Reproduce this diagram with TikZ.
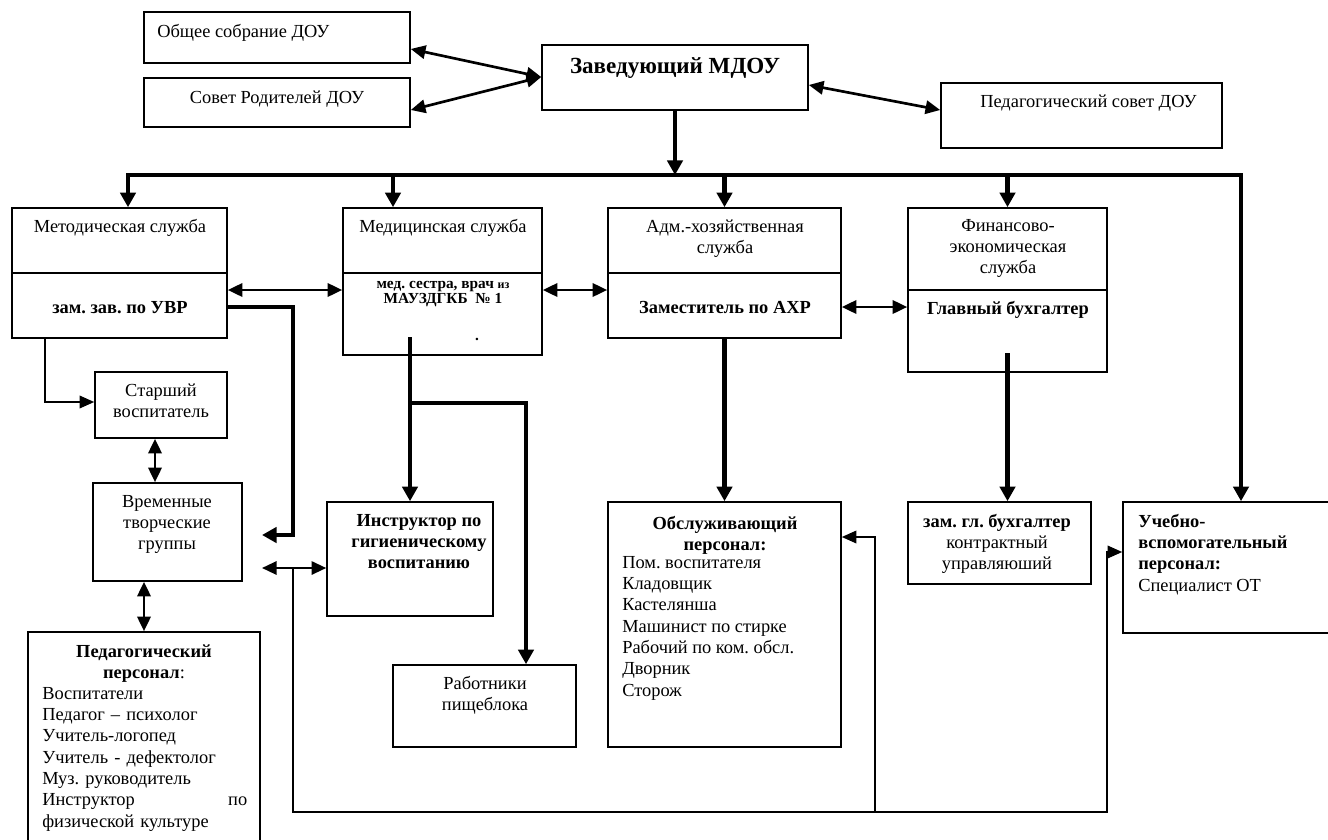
\documentclass[tikz,border=0pt]{standalone}
\usepackage{fontspec}
\setmainfont{Liberation Serif}
\usetikzlibrary{arrows.meta,fit}
\frenchspacing
\tikzset{
  box/.style={draw, line width=1.2pt, inner sep=0pt},
  divline/.style={line width=1.2pt},
  txt/.style={inner sep=0pt, font=\fontsize{13.8pt}{16pt}\selectfont\frenchspacing, align=center, anchor=north, yshift=11.2pt},
  txtl/.style={txt, align=left, anchor=north west},
  btxt/.style={txt, font=\fontsize{13.8pt}{16pt}\selectfont\bfseries\frenchspacing},
  smalltxt/.style={inner sep=0pt, font=\fontsize{11.5pt}{11.25pt}\selectfont\bfseries, align=center, anchor=north, yshift=7.875pt},
  zavtxt/.style={inner sep=0pt, font=\fontsize{17.3pt}{20pt}\selectfont\bfseries, anchor=base},
  heavy/.style={line width=3.7pt, line join=miter},
  heavyarr/.style={heavy, -{Triangle[length=11pt,width=11.5pt]}},
  dblarr/.style={line width=2pt, {Triangle[length=11pt,width=10pt]}-{Triangle[length=11pt,width=10pt]}},
  lite/.style={line width=1.2pt, line join=miter},
  litearr/.style={lite, -{Triangle[length=11pt,width=9.5pt]}},
}
\begin{document}
\begin{tikzpicture}[x=0.75pt,y=-0.75pt]
\useasboundingbox (0,0) rectangle (1328,839);
\clip (0,0) rectangle (1328,839);
\fill[white] (0,0) rectangle (1328,839);

% top level
\node[box, fit={(144,12)(410,63)}] (obsch) {};
\node[txtl] (obsch-t) at (157,37) {\strut Общее собрание ДОУ};
\node[box, fit={(144,78)(410,127)}] (sovet) {};
\node[txt] (sovet-t) at (277,103) {\strut Совет Родителей ДОУ};
\node[box, fit={(542,45)(808,110)}] (zav) {};
\node[zavtxt] (zav-t) at (675,73) {Заведующий МДОУ};
\node[box, fit={(941,83)(1222,148)}] (pedsov) {};
\node[txtl] (pedsov-t) at (980,107) {\strut Педагогический совет ДОУ};

% services
\node[box, fit={(12,208)(227,338)}] (metod) {};
\draw[divline] (metod.west |- 0,273) -- (metod.east |- 0,273);
\node[txt] (metod-t) at (120,232) {\strut Методическая служба};
\node[btxt] (metod-b) at (120,313) {\strut зам. зав. по УВР};

\node[box, fit={(343,208)(542,355)}] (med) {};
\draw[divline] (med.west |- 0,273) -- (med.east |- 0,273);
\node[txt] (med-t) at (443,232) {\strut Медицинская служба};
\node[smalltxt] (med-b) at (443,288) {\strut мед. сестра, врач {\fontsize{9pt}{11.25pt}\selectfont из}\\МАУЗДГКБ~~№~1};
\node[smalltxt] (med-dot) at (477,340) {\strut .};

\node[box, fit={(608,208)(841,338)}] (adm) {};
\draw[divline] (adm.west |- 0,273) -- (adm.east |- 0,273);
\node[txt] (adm-t) at (725,232) {\strut Адм.-хозяйственная\\служба};
\node[btxt] (adm-b) at (725,313) {\strut Заместитель по АХР};

\node[box, fit={(908,208)(1107,372)}] (fin) {};
\draw[divline] (fin.west |- 0,290) -- (fin.east |- 0,290);
\node[txt] (fin-t) at (1008,231) {\strut Финансово-\\экономическая\\служба};
\node[btxt] (fin-b) at (1008,314) {\strut Главный бухгалтер};

% left column
\node[box, fit={(95,372)(227,438)}] (starsh) {};
\node[txt] (starsh-t) at (161,396) {\strut Старший\\воспитатель};
\node[box, fit={(93,483)(242,581)}] (vrem) {};
\node[txt] (vrem-t) at (167,507) {\strut Временные\\творческие\\группы};
\node[box, fit={(28,632)(260,870)}] (pedpers) {};
\node[btxt] (pedpers-h) at (144,657) {\strut Педагогический\\персонал{\mdseries :}};
\node[txtl, text width=153.75pt] (pedpers-l) at (42,699) {\strut Воспитатели\\Педагог – психолог\\Учитель-логопед\\Учитель - дефектолог\\Муз.\ руководитель\\Инструктор\hfill по\\физической культуре};

% lower boxes
\node[box, fit={(327,502)(493,616)}] (instr) {};
\node[btxt] (instr-t) at (419,526) {\strut Инструктор по\\гигиеническому\\воспитанию};
\node[box, fit={(393,665)(576,747)}] (rab) {};
\node[txt] (rab-t) at (485,689) {\strut Работники\\пищеблока};
\node[box, fit={(608,502)(841,747)}] (obsl) {};
\node[btxt] (obsl-h) at (725,529) {\strut Обслуживающий\\персонал:};
\node[txtl] (obsl-l) at (622,568) {\strut Пом. воспитателя\\Кладовщик\\Кастелянша\\Машинист по стирке\\Рабочий по ком. обсл.\\Дворник\\Сторож};
\node[box, fit={(908,502)(1091,584)}] (zamgl) {};
\node[txt] (zamgl-t) at (997,527) {\strut\textbf{зам. гл. бухгалтер}\\контрактный\\управляюший};
\node[box, fit={(1123,502)(1345,633)}] (ucheb) {};
\node[txtl] (ucheb-t) at (1138,527) {\strut\textbf{Учебно-}\\\textbf{вспомогательный}\\\textbf{персонал:}\\Специалист ОТ};

% coordinates
\coordinate (busL) at (128,175);
\coordinate (busR) at (1241,175);
\coordinate (busM) at (393,175);
\coordinate (vremIn) at (262,535);
\coordinate (instrIn) at (262,568);
\coordinate (medOut) at (410,337);

% top connectors
\draw[dblarr] (obsch.east |- 0,49) -- (zav.west |- 0,77);
\draw[dblarr] (sovet.east |- 0,110) -- (zav.west |- 0,77);
\draw[dblarr] (zav.east |- 0,85) -- (pedsov.west |- 0,110);
\draw[heavyarr] (zav.south) -- (zav.south |- busL);
\draw[heavy, line cap=rect] (busL) -- (busR);
\draw[heavyarr] (busL) -- (busL |- metod.north);
\draw[heavyarr] (busM) -- (busM |- med.north);
\draw[heavyarr] (adm.north |- busL) -- (adm.north);
\draw[heavyarr] (fin.north |- busL) -- (fin.north);
\draw[heavyarr] (busR) -- (busR |- ucheb.north);

% service links
\draw[dblarr] (metod.east |- 0,290) -- (med.west |- 0,290);
\draw[dblarr] (med.east |- 0,290) -- (adm.west |- 0,290);
\draw[dblarr] (adm.east |- 0,307) -- (fin.west |- 0,307);

% left side
\draw[heavyarr] (metod.east |- 0,307) -| (293,535) -- (vremIn);
\draw[litearr] (metod.south -| 45,0) |- (starsh.west |- 0,402);
\draw[dblarr] (starsh.south -| 155,0) -- (vrem.north -| 155,0);
\draw[dblarr] (vrem.south -| 144,0) -- (pedpers.north -| 144,0);

% medical
\draw[heavyarr] (medOut) -- (instr.north);
\draw[heavyarr] (medOut |- 0,403) -- (526,403) -- (rab.north -| 526,0);
\draw[heavyarr] (adm.south) -- (obsl.north);
\draw[heavyarr] (fin.south |- 0,353) -- (fin.south |- zamgl.north);

% bottom network
\draw[dblarr, line width=1.6pt] (instrIn) -- (instr.west |- instrIn);
\draw[litearr] (293,568) |- (1107,812) -- (1107,552) -- (ucheb.west |- 0,552);
\draw[litearr] (875,812) -- (875,537) -- (obsl.east |- 0,537);
\end{tikzpicture}
\end{document}
